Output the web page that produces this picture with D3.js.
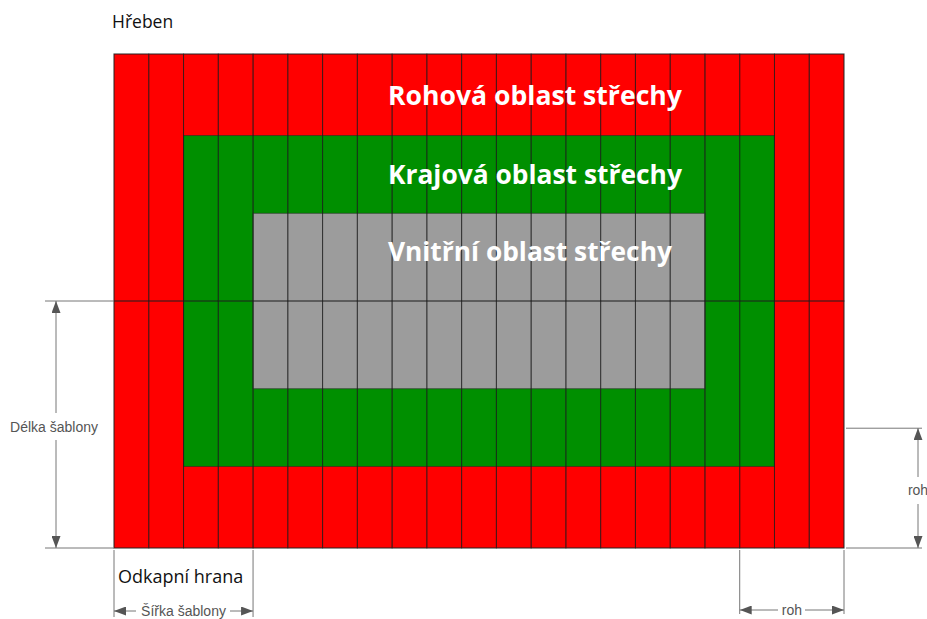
<!DOCTYPE html>
<html>
<head>
<meta charset="utf-8">
<script src="https://cdn.jsdelivr.net/npm/d3@7"></script>
<style>
  body { margin: 0; background: #fff; }
  svg { display: block; }
</style>
</head>
<body>
<div class="chart"></div>
<script>
// roof grid: 21 template columns, 2 template rows
var columnCount = 21;
var rowCount = 2;

// roof zones (columns / template lengths), drawn outer to inner
var zoneNames = ['Rohová oblast střechy', 'Krajová oblast střechy', 'Vnitřní oblast střechy'];
var zoneCols = [[0, 21], [2, 19], [4, 17]];
var zoneRows = [[0, 2], [0.33, 1.67], [0.645, 1.355]];
var zoneColors = ['#ff0000', '#008f00', '#9c9c9c'];

// dimension labels
var edgeLabels = ['Hřeben', 'Odkapní hrana'];
var dimLabels = ['Délka šablony', 'Šířka šablony', 'roh', 'roh'];
var dimCols = [[0, 4], [18, 21]];
var dimRows = [[1, 2], [1.515, 2]];

var width = 927, height = 619;

var x = d3.scaleLinear().domain([0, columnCount]).range([114, 844]);
var y = d3.scaleLinear().domain([0, rowCount]).range([54, 548]);

var svg = d3.select('.chart')
    .append('svg')
    .attr('width', width)
    .attr('height', height);

var defs = svg.append('defs');
defs.append('marker')
    .attr('id', 'arr')
    .attr('viewBox', '0 0 12 9')
    .attr('refX', 12)
    .attr('refY', 4.5)
    .attr('markerUnits', 'userSpaceOnUse')
    .attr('markerWidth', 12)
    .attr('markerHeight', 9)
    .attr('orient', 'auto-start-reverse')
    .append('path')
    .attr('d', 'M0,0 L12,4.5 L0,9 Z')
    .attr('fill', '#555');

// zone fills
svg.selectAll('rect.zone')
    .data(zoneNames)
    .enter()
    .append('rect')
    .attr('class', 'zone')
    .attr('x', (d, i) => x(zoneCols[i][0]))
    .attr('y', (d, i) => y(zoneRows[i][0]))
    .attr('width', (d, i) => x(zoneCols[i][1]) - x(zoneCols[i][0]))
    .attr('height', (d, i) => y(zoneRows[i][1]) - y(zoneRows[i][0]))
    .attr('fill', (d, i) => zoneColors[i])
    .attr('stroke', 'rgba(40,40,40,0.55)')
    .attr('stroke-width', 1);

// template cells
var cells = d3.cross(d3.range(columnCount), d3.range(rowCount));
svg.selectAll('rect.cell')
    .data(cells)
    .enter()
    .append('rect')
    .attr('class', 'cell')
    .attr('x', d => x(d[0]))
    .attr('y', d => y(d[1]))
    .attr('width', x(1) - x(0))
    .attr('height', y(1) - y(0))
    .attr('fill', 'none')
    .attr('stroke', 'rgba(30,30,30,0.6)')
    .attr('stroke-width', 1);

// zone labels
var labelRows = [0.206, 0.526, 0.838];
svg.selectAll('text.zone-label')
    .data(zoneNames)
    .enter()
    .append('text')
    .attr('class', 'zone-label')
    .attr('x', x(7.88))
    .attr('y', (d, i) => y(labelRows[i]))
    .attr('textLength', (d, i) => i == 2 ? 284 : 294)
    .attr('lengthAdjust', 'spacingAndGlyphs')
    .attr('fill', '#fff')
    .style('font-family', '"Open Sans", sans-serif')
    .style('font-weight', 700)
    .style('font-size', '27px')
    .text(d => d);

// edge labels
svg.append('text')
    .attr('x', 112)
    .attr('y', 28)
    .style('font-family', '"Open Sans", sans-serif')
    .style('font-size', '17.5px')
    .attr('fill', '#111')
    .text(edgeLabels[0]);

svg.append('text')
    .attr('x', 118)
    .attr('y', 583)
    .style('font-family', '"Open Sans", sans-serif')
    .style('font-size', '18px')
    .attr('fill', '#111')
    .text(edgeLabels[1]);

// dimension lines
var dimColor = '#777';
var dim = svg.append('g')
    .attr('stroke', dimColor)
    .attr('stroke-width', 1)
    .attr('fill', 'none');

function label(tx, ty, txt, anchor) {
    return svg.append('text')
        .attr('x', tx)
        .attr('y', ty)
        .attr('text-anchor', anchor)
        .style('font-family', '"Liberation Sans", Arial, sans-serif')
        .style('font-size', '14px')
        .attr('fill', '#555')
        .text(txt);
}

// vertical: Délka šablony
var lx = 56;
dim.append('line').attr('x1', 45).attr('x2', x(0)).attr('y1', y(dimRows[0][0])).attr('y2', y(dimRows[0][0]));
dim.append('line').attr('x1', 45).attr('x2', x(0)).attr('y1', y(dimRows[0][1])).attr('y2', y(dimRows[0][1]));
dim.append('line').attr('x1', lx).attr('x2', lx).attr('y1', 413).attr('y2', y(dimRows[0][0]))
    .attr('marker-end', 'url(#arr)');
dim.append('line').attr('x1', lx).attr('x2', lx).attr('y1', 440).attr('y2', y(dimRows[0][1]))
    .attr('marker-end', 'url(#arr)');
label(54, 432, dimLabels[0], 'middle');

// horizontal: Šířka šablony
var by = 611;
dim.append('line').attr('x1', x(dimCols[0][0])).attr('x2', x(dimCols[0][0])).attr('y1', y(2) + 2).attr('y2', 617);
dim.append('line').attr('x1', x(dimCols[0][1])).attr('x2', x(dimCols[0][1])).attr('y1', y(2) + 2).attr('y2', 617);
dim.append('line').attr('x1', 136).attr('x2', x(dimCols[0][0])).attr('y1', by).attr('y2', by)
    .attr('marker-end', 'url(#arr)');
dim.append('line').attr('x1', 230).attr('x2', x(dimCols[0][1])).attr('y1', by).attr('y2', by)
    .attr('marker-end', 'url(#arr)');
label((x(dimCols[0][0]) + x(dimCols[0][1])) / 2, 616, dimLabels[1], 'middle');

// vertical: roh
var rx = 918;
dim.append('line').attr('x1', x(21) + 2).attr('x2', 922).attr('y1', y(dimRows[1][0])).attr('y2', y(dimRows[1][0]));
dim.append('line').attr('x1', x(21) + 2).attr('x2', 922).attr('y1', y(dimRows[1][1])).attr('y2', y(dimRows[1][1]));
dim.append('line').attr('x1', rx).attr('x2', rx).attr('y1', 477).attr('y2', y(dimRows[1][0]))
    .attr('marker-end', 'url(#arr)');
dim.append('line').attr('x1', rx).attr('x2', rx).attr('y1', 504).attr('y2', y(dimRows[1][1]))
    .attr('marker-end', 'url(#arr)');
label(rx, 495, dimLabels[2], 'middle');

// horizontal: roh
dim.append('line').attr('x1', x(dimCols[1][0])).attr('x2', x(dimCols[1][0])).attr('y1', y(2) + 2).attr('y2', 614);
dim.append('line').attr('x1', x(dimCols[1][1])).attr('x2', x(dimCols[1][1])).attr('y1', y(2) + 2).attr('y2', 614);
dim.append('line').attr('x1', 778).attr('x2', x(dimCols[1][0])).attr('y1', 610).attr('y2', 610)
    .attr('marker-end', 'url(#arr)');
dim.append('line').attr('x1', 805).attr('x2', x(dimCols[1][1])).attr('y1', 610).attr('y2', 610)
    .attr('marker-end', 'url(#arr)');
label((x(dimCols[1][0]) + x(dimCols[1][1])) / 2, 615, dimLabels[3], 'middle');
</script>
</body>
</html>
